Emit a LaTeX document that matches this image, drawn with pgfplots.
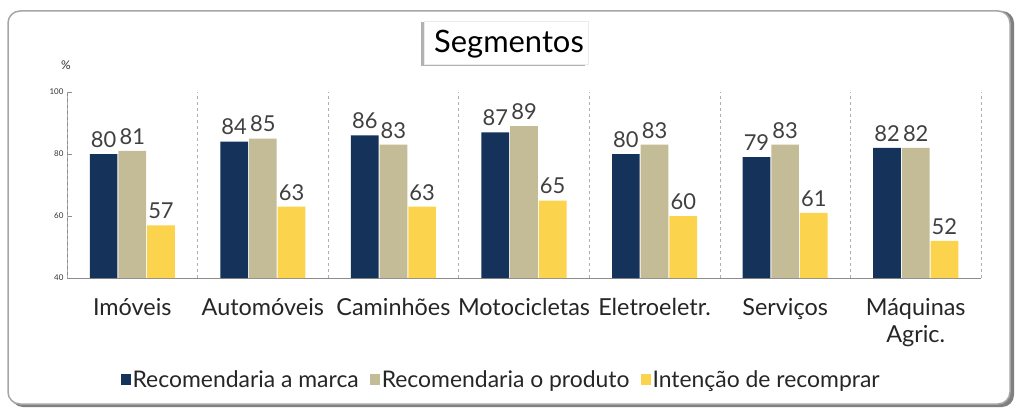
\documentclass[border=0pt]{standalone}
\usepackage{pgfplots}
\pgfplotsset{compat=1.18}
\usepackage{fontspec}
\setmainfont{Lato}
\definecolor{cnavy}{HTML}{15325A}
\definecolor{ckhaki}{HTML}{C4BC96}
\definecolor{cyellow}{HTML}{FCD34C}
\definecolor{caxis}{HTML}{8C8C8C}
\begin{document}
\begin{tikzpicture}[x=1bp,y=1bp]
\path[use as bounding box] (0,0) rectangle (1023,417);
% outer frame with shadow
\fill[black!50, rounded corners=12bp] (11,10) rectangle (1014,406);
\draw[black!35, line width=1.5bp, fill=white, rounded corners=12bp] (8,13) rectangle (1010,406);
% title box
\fill[black!30] (421,351) rectangle (585,395);
\draw[black!8, fill=white] (424,353) rectangle (588,396);
\node[font=\fontsize{31}{34}\selectfont, text=black] at (509,373) {Segmentos};
\node[font=\fontsize{12}{14}\selectfont, text=black!80] at (66,352) {\%};
\begin{axis}[
  at={(67bp,139bp)}, anchor=south west,
  scale only axis, width=914bp, height=186bp,
  xmin=-0.5, xmax=6.5, ymin=40, ymax=100,
  ybar=1bp, bar width=0.212,
  axis x line*=bottom, axis y line*=left,
  axis line style={caxis, line width=1bp},
  ytick={40,60,80,100},
  yticklabel style={font=\fontsize{8}{9}\selectfont, text=black!80},
  ytick style={caxis, line width=0.8bp},
  major tick length=5bp,
  /pgf/number format/assume math mode=true,
  xtick={0,...,6},
  xticklabels={Imóveis,Automóveis,Caminhões,Motocicletas,Eletroeletr.,Serviços,{Máquinas\\Agric.}},
  xticklabel style={font=\fontsize{23.5}{27}\selectfont, align=center, text=black!85, yshift=-12bp},
  x tick style={draw=none},
  extra x ticks={-0.5,0.5,1.5,2.5,3.5,4.5,5.5,6.5},
  extra x tick labels={},
  extra x tick style={grid=major, major grid style={caxis!70, dashed, line width=0.7bp},
     tick style={draw=caxis, line width=0.8bp}, major tick length=8bp, tick align=center},
  nodes near coords,
  every node near coord/.append style={font=\fontsize{22}{24}\selectfont, text=black!75, yshift=3bp},
  clip=false,
  legend style={at={(0.475,-0.55)}, anchor=center, draw=none, legend columns=3,
     font=\fontsize{23}{25}\selectfont, text=black!85,
     /tikz/every even column/.append style={column sep=9bp}},
  legend image code/.code={\fill[#1] (0bp,-5bp) rectangle (10bp,6bp);},
]
\addplot[fill=cnavy, draw=none] coordinates {(0,80) (1,84) (2,86) (3,87) (4,80) (5,79) (6,82)};
\addplot[fill=ckhaki, draw=none] coordinates {(0,81) (1,85) (2,83) (3,89) (4,83) (5,83) (6,82)};
\addplot[fill=cyellow, draw=none] coordinates {(0,57) (1,63) (2,63) (3,65) (4,60) (5,61) (6,52)};
\legend{Recomendaria a marca, Recomendaria o produto, Intenção de recomprar}
\end{axis}
\end{tikzpicture}
\end{document}
